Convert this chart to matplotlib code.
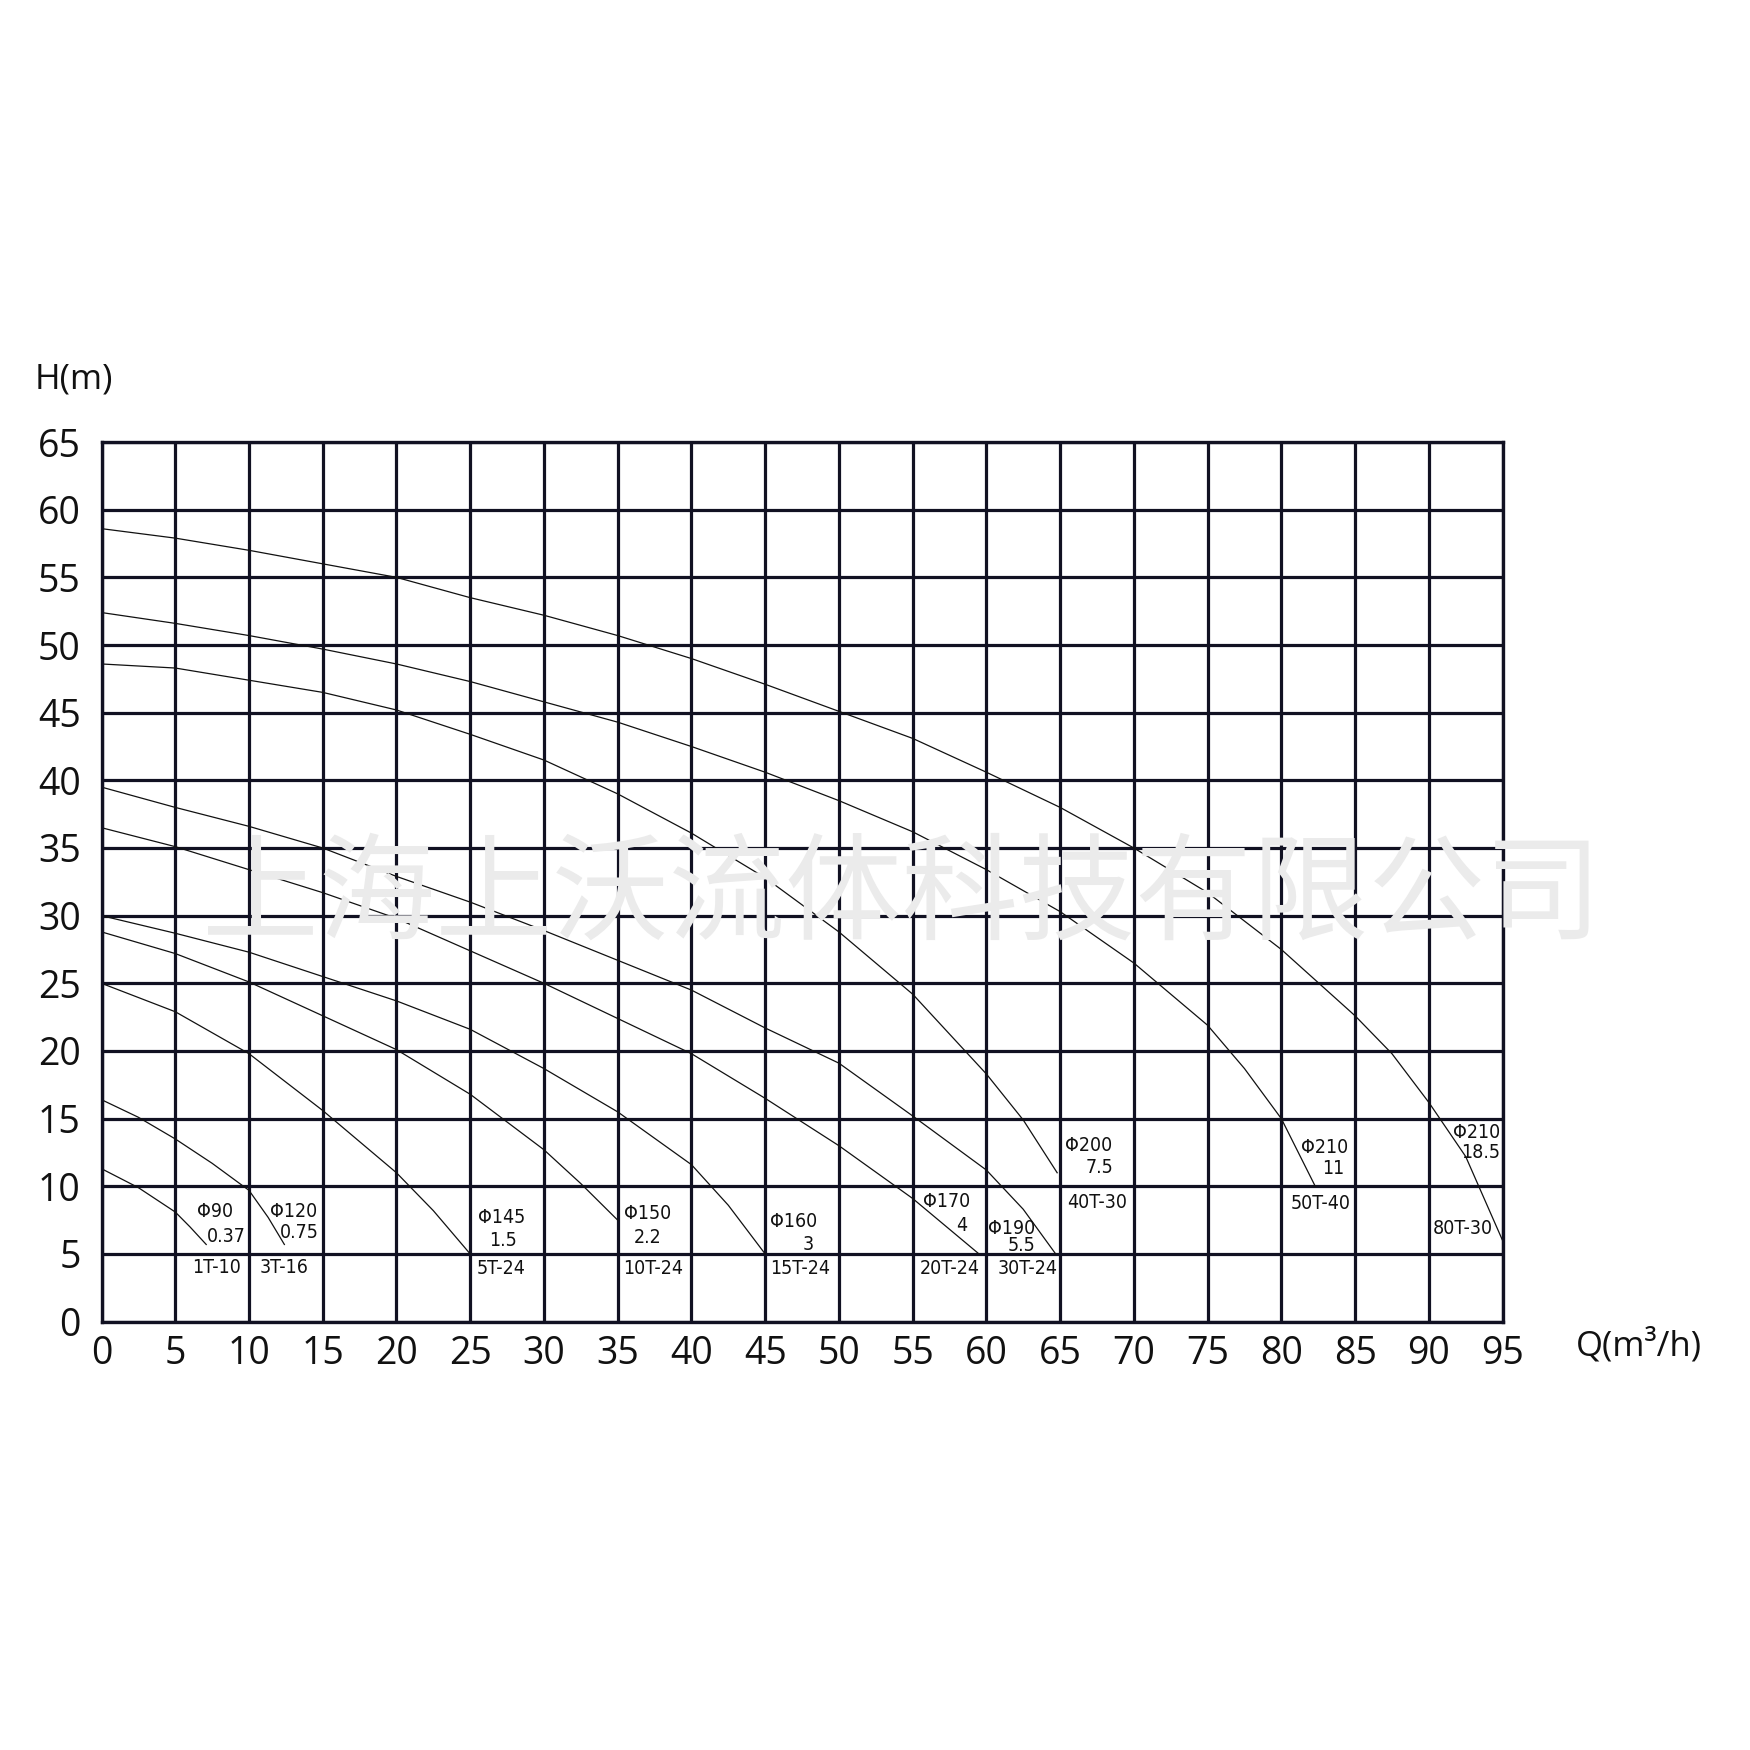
import matplotlib
matplotlib.use("Agg")
import matplotlib.pyplot as plt

# ---- data ----
x_ticks = list(range(0, 100, 5))
y_ticks = list(range(0, 70, 5))

q_90 = [0, 2.5, 5, 6, 7.1]
h_90 = [11.3, 9.9, 8.1, 7.0, 5.7]

q_120 = [0, 2.5, 5, 7.5, 10, 11.3, 12.4]
h_120 = [16.4, 15.1, 13.5, 11.7, 9.7, 7.7, 5.7]

q_145 = [0, 5, 10, 15, 20, 22.5, 25]
h_145 = [25.0, 22.9, 19.8, 15.6, 11.0, 8.2, 5.0]

q_150 = [0, 5, 10, 15, 20, 25, 30, 32.5, 35]
h_150 = [28.8, 27.2, 25.1, 22.6, 20.1, 16.8, 12.7, 10.2, 7.5]

q_160 = [0, 5, 10, 15, 20, 25, 30, 35, 40, 42.5, 45]
h_160 = [30.0, 28.7, 27.3, 25.5, 23.7, 21.6, 18.7, 15.5, 11.6, 8.6, 5.0]

q_170 = [0, 5, 10, 15, 20, 25, 30, 35, 40, 45, 50, 55, 59.5]
h_170 = [36.5, 35.1, 33.4, 31.7, 29.8, 27.4, 25.0, 22.4, 19.8, 16.5, 13.0, 9.1, 5.0]

q_190 = [0, 5, 10, 15, 20, 25, 30, 35, 40, 45, 50, 55, 60, 62.5, 64.7]
h_190 = [39.5, 38.0, 36.6, 35.0, 32.9, 31.0, 28.9, 26.7, 24.5, 21.7, 19.1, 15.2, 11.2, 8.3, 5.0]

q_200 = [0, 5, 10, 15, 20, 25, 30, 35, 40, 45, 50, 55, 60, 62.5, 64.8]
h_200 = [48.6, 48.3, 47.4, 46.5, 45.2, 43.4, 41.5, 39.0, 36.1, 32.8, 28.8, 24.2, 18.3, 14.9, 11.0]

q_210a = [0, 5, 10, 15, 20, 25, 30, 35, 40, 45, 50, 55, 60, 65, 70, 75, 77.5, 80, 82.3]
h_210a = [52.4, 51.6, 50.7, 49.7, 48.6, 47.3, 45.8, 44.3, 42.5, 40.6, 38.5, 36.2, 33.4, 30.3,
          26.5, 21.9, 18.7, 15.0, 10.0]

q_210b = [0, 5, 10, 15, 20, 25, 30, 35, 40, 45, 50, 55, 60, 65, 70, 75, 80, 85, 87.5, 90, 92.5, 95]
h_210b = [58.6, 57.9, 57.0, 56.0, 55.0, 53.5, 52.2, 50.7, 49.0, 47.1, 45.1, 43.1, 40.6, 38.0,
          35.0, 31.7, 27.5, 22.6, 19.8, 16.2, 12.2, 6.0]

curves = [(q_90, h_90), (q_120, h_120), (q_145, h_145), (q_150, h_150), (q_160, h_160),
          (q_170, h_170), (q_190, h_190), (q_200, h_200), (q_210a, h_210a), (q_210b, h_210b)]

# annotation texts and their anchor positions (data coords)
label_texts = ["Φ90", "0.37", "1T-10", "Φ120", "0.75", "3T-16",
               "Φ145", "1.5", "5T-24", "Φ150", "2.2", "10T-24",
               "Φ160", "3", "15T-24", "Φ170", "4", "20T-24",
               "Φ190", "5.5", "30T-24", "Φ200", "7.5", "40T-30",
               "Φ210", "11", "50T-40", "Φ210", "18.5", "80T-30"]
label_x = [7.7, 8.45, 7.8, 13.05, 13.4, 12.4,
           27.1, 27.2, 27.1, 37.0, 37.05, 37.4,
           46.9, 47.9, 47.35, 57.3, 58.3, 57.5,
           61.7, 62.4, 62.8, 66.96, 67.7, 67.5,
           82.95, 83.5, 82.7, 93.25, 93.5, 92.3]
label_y = [8.1, 6.3, 4.0, 8.1, 6.55, 4.0,
           7.7, 6.0, 3.9, 7.96, 6.2, 3.9,
           7.4, 5.7, 3.9, 8.85, 7.1, 3.9,
           6.85, 5.6, 3.9, 13.0, 11.4, 8.8,
           12.9, 11.3, 8.7, 14.0, 12.5, 6.85]

watermark = "上海上沃流体科技有限公司"

# ---- figure ----
fig = plt.figure(figsize=(17.5, 17.5), dpi=100)
fig.patch.set_facecolor("white")

# watermark behind everything
fig.text(0.515, 0.487, watermark, fontsize=84, color="#ebebeb",
         family=["Noto Sans CJK SC", "DejaVu Sans"], ha="center", va="center",
         zorder=0, fontweight="light")

ax = fig.add_axes([0.058, 0.2448, 0.8006, 0.5026])
ax.set_facecolor("none")
ax.set_xlim(0, 95)
ax.set_ylim(0, 65)
ax.set_xticks(x_ticks)
ax.set_yticks(y_ticks)
ax.set_xticklabels([str(v) for v in x_ticks])
ax.set_yticklabels([str(v) for v in y_ticks])
ax.tick_params(length=0, labelsize=27, pad=10)
ax.tick_params(axis="y", pad=15)
for lab in ax.get_xticklabels() + ax.get_yticklabels():
    lab.set_family(["Open Sans", "DejaVu Sans"])
    lab.set_color("#111111")

ax.grid(True, color="#111122", linewidth=2.3)
for s in ax.spines.values():
    s.set_linewidth(2.4)
    s.set_color("#111122")

for q, h in curves:
    ax.plot(q, h, color="#111111", linewidth=0.9, solid_joinstyle="round")

for t, x, y in zip(label_texts, label_x, label_y):
    ax.text(x, y, t, fontsize=14, family=["DejaVu Sans"], fontstretch="condensed",
            ha="center", va="center", color="#111111", zorder=5)

fig.text(0.0421, 0.7834, "H(m)", fontsize=25, family=["Open Sans", "DejaVu Sans"],
         ha="center", va="center", color="#111111")
fig.text(0.9366, 0.2309, "Q(m³/h)", fontsize=25, family=["Open Sans", "DejaVu Sans"],
         ha="center", va="center", color="#111111")

fig.savefig("out.png", dpi=100, facecolor="white")
